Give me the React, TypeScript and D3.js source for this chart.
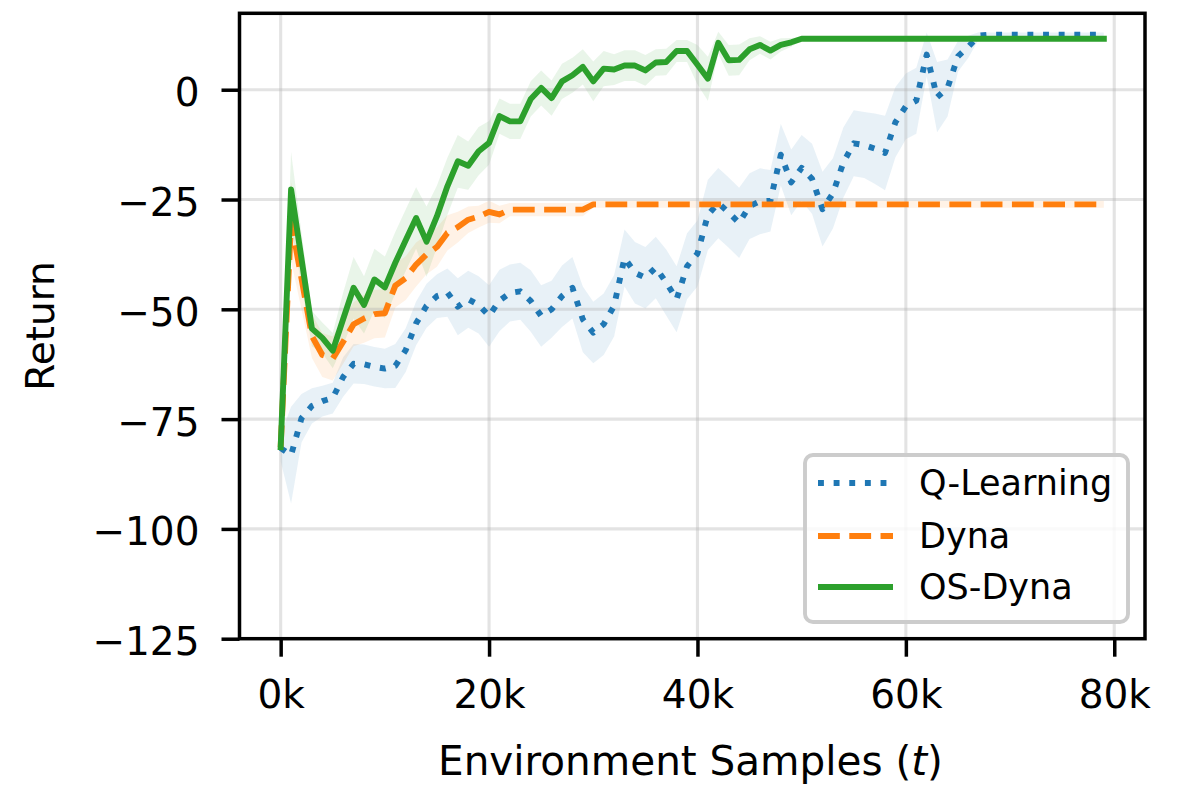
import { useEffect, useRef } from 'react';
import * as d3 from 'd3';

// environment samples, in thousands
const stepsK = [
  0, 1, 2, 3, 4, 5, 6, 7, 8, 9, 10, 11, 12, 13, 14, 15, 16, 17, 18, 19,
  20, 21, 22, 23, 24, 25, 26, 27, 28, 29, 30, 31, 32, 33, 34, 35, 36, 37, 38, 39,
  40, 41, 42, 43, 44, 45, 46, 47, 48, 49, 50, 51, 52, 53, 54, 55, 56, 57, 58, 59,
  60, 61, 62, 63, 64, 65, 66, 67, 68, 69, 70, 71, 72, 73, 74, 75, 76, 77, 78, 79,
];

const qMean = [
  -81.6, -83.2, -74.8, -72.0, -70.9, -70.2, -65.4, -62.4, -62.5, -63.1,
  -63.5, -62.9, -59.3, -53.2, -49.2, -47.0, -46.2, -49.4, -47.7, -49.0,
  -51.5, -48.0, -46.3, -45.9, -48.1, -51.5, -50.0, -47.0, -45.1, -52.3,
  -55.3, -53.4, -49.2, -38.3, -41.7, -42.8, -40.5, -43.9, -47.7, -40.2,
  -37.3, -28.5, -25.8, -28.0, -30.3, -26.5, -25.4, -25.3, -14.8, -21.1,
  -17.8, -20.3, -27.2, -23.6, -16.6, -12.2, -12.6, -13.4, -14.4, -7.4,
  -3.8, -2.5, 8.0, -1.7, 0.4, 7.6, 9.8, 12.3, 12.5, 12.5,
  12.5, 12.5, 12.5, 12.5, 12.5, 12.5, 12.5, 12.5, 12.5, 12.5,
];
const qStd = [
  3, 11, 5.5, 4, 3.5, 3.5, 4.5, 4.5, 4.5, 4.5,
  4.5, 5, 5, 5, 5, 5, 5.5, 6.5, 6.5, 6.5,
  7, 7, 6.5, 6.5, 7, 7, 6.5, 7, 7, 7.5,
  7, 7, 7, 6.5, 7, 7, 7, 7.5, 7.5, 7.5,
  7.5, 8, 8, 8, 8, 7.5, 7.5, 7, 7, 7.5,
  7.5, 8, 8.5, 8, 8, 7.5, 7.5, 8, 8.5, 8,
  7.5, 7.5, 5, 8, 6.5, 3.5, 2.5, 0.8, 0.5, 0.5,
  0.5, 0.5, 0.5, 0.5, 0.5, 0.5, 0.5, 0.5, 0.5, 0.5,
];

const dynaMean = [
  -81.4, -30.0, -43.0, -56.1, -60.4, -61.2, -57.4, -53.4, -52.1, -51.1,
  -50.9, -44.6, -42.9, -39.8, -37.5, -35.8, -32.6, -31.3, -29.6, -28.9,
  -27.8, -28.4, -27.3, -27.3, -27.3, -27.3, -27.3, -27.3, -27.3, -27.3,
  -26.1, -26.1, -26.1, -26.1, -26.1, -26.1, -26.1, -26.1, -26.1, -26.1,
  -26.1, -26.1, -26.1, -26.1, -26.1, -26.1, -26.1, -26.1, -26.1, -26.1,
  -26.1, -26.1, -26.1, -26.1, -26.1, -26.1, -26.1, -26.1, -26.1, -26.1,
  -26.1, -26.1, -26.1, -26.1, -26.1, -26.1, -26.1, -26.1, -26.1, -26.1,
  -26.1, -26.1, -26.1, -26.1, -26.1, -26.1, -26.1, -26.1, -26.1, -26.1,
];
const dynaStd = [
  1.5, 9, 7, 5, 5, 5, 5, 5, 5.5, 5.5,
  5.5, 5, 5, 5, 4.5, 4.5, 4, 3.5, 3, 2.5,
  2.5, 2, 1.5, 1.5, 1.5, 1.5, 1.5, 1.5, 1.5, 1.5,
  0.8, 0.8, 0.8, 0.8, 0.8, 0.8, 0.8, 0.8, 0.8, 0.8,
  0.8, 0.8, 0.8, 0.8, 0.8, 0.8, 0.8, 0.8, 0.8, 0.8,
  0.8, 0.8, 0.8, 0.8, 0.8, 0.8, 0.8, 0.8, 0.8, 0.8,
  0.8, 0.8, 0.8, 0.8, 0.8, 0.8, 0.8, 0.8, 0.8, 0.8,
  0.8, 0.8, 0.8, 0.8, 0.8, 0.8, 0.8, 0.8, 0.8, 0.8,
];

const osMean = [
  -81.4, -22.7, -38.5, -54.4, -56.5, -59.4, -52.2, -45.1, -49.0, -43.2,
  -45.0, -39.4, -34.3, -29.2, -34.6, -28.8, -22.0, -16.3, -17.3, -14.0,
  -12.1, -6.0, -7.2, -7.2, -2.1, 0.4, -1.9, 1.9, 3.3, 5.2,
  1.9, 4.8, 4.6, 5.5, 5.5, 4.4, 6.2, 6.3, 8.8, 8.8,
  5.7, 2.5, 10.7, 6.7, 6.8, 9.2, 10.2, 8.9, 10.2, 10.8,
  11.6, 11.6, 11.6, 11.6, 11.6, 11.6, 11.6, 11.6, 11.6, 11.6,
  11.6, 11.6, 11.6, 11.6, 11.6, 11.6, 11.6, 11.6, 11.6, 11.6,
  11.6, 11.6, 11.6, 11.6, 11.6, 11.6, 11.6, 11.6, 11.6, 11.6,
];
const osStd = [
  2, 8.5, 6, 4, 3.5, 4, 6, 7, 6.5, 7,
  7, 7, 7, 7, 8, 7, 6.5, 6, 5.5, 5.5,
  5, 4, 4, 4, 4, 4, 4, 4, 4, 4,
  4.5, 4, 3.5, 3.5, 3.5, 3.5, 3, 3, 2.5, 2.5,
  4.5, 5, 2.5, 3.5, 3.5, 2.5, 2, 2, 1.5, 1,
  0.4, 0.4, 0.4, 0.4, 0.4, 0.4, 0.4, 0.4, 0.4, 0.4,
  0.4, 0.4, 0.4, 0.4, 0.4, 0.4, 0.4, 0.4, 0.4, 0.4,
  0.4, 0.4, 0.4, 0.4, 0.4, 0.4, 0.4, 0.4, 0.4, 0.4,
];

const seriesNames = ['Q-Learning', 'Dyna', 'OS-Dyna'];

const xTicks = [0, 20000, 40000, 60000, 80000];
const xTickLabels = ['0k', '20k', '40k', '60k', '80k'];
const yTicks = [0, -25, -50, -75, -100, -125];
const yTickLabels = ['0', '\u221225', '\u221250', '\u221275', '\u2212100', '\u2212125'];

const FONT = '"DejaVu Sans", sans-serif';

function App() {
  const chartRef = useRef(null);

  useEffect(() => {
    const svg = d3.select(chartRef.current);
    svg.selectAll('*').remove();

    const left = 239.5, right = 1145, top = 13.3, bottom = 638.7;
    const lw = 5.9;

    const x = d3.scaleLinear().domain([-3950, 82950]).range([left, right]);
    const y = d3.scaleLinear().domain([-125, 17.4]).range([bottom, top]);

    const series = [
      { name: seriesNames[0], mean: qMean, std: qStd, color: '#1f77b4', dash: `${lw},${lw * 1.65}`, cap: 'butt' },
      { name: seriesNames[1], mean: dynaMean, std: dynaStd, color: '#ff7f0e', dash: `${lw * 3.7},${lw * 1.6}`, cap: 'butt' },
      { name: seriesNames[2], mean: osMean, std: osStd, color: '#2ca02c', dash: null, cap: 'square' },
    ];

    svg.append('rect').attr('width', 1185).attr('height', 786).attr('fill', '#fff');

    svg.append('defs').append('clipPath').attr('id', 'plot-clip')
      .append('rect')
      .attr('x', left).attr('y', top)
      .attr('width', right - left).attr('height', bottom - top);

    const plot = svg.append('g').attr('clip-path', 'url(#plot-clip)');

    // bands
    series.forEach((s) => {
      const area = d3.area()
        .x((d, i) => x(stepsK[i] * 1000))
        .y0((d, i) => y(s.mean[i] - s.std[i]))
        .y1((d, i) => y(s.mean[i] + s.std[i]));
      plot.append('path')
        .attr('d', area(stepsK))
        .attr('fill', s.color)
        .attr('fill-opacity', 0.1)
        .attr('stroke', 'none');
    });

    // grid
    const grid = plot.append('g')
      .attr('stroke', '#b0b0b0')
      .attr('stroke-opacity', 0.35)
      .attr('stroke-width', 3.1);
    grid.selectAll('.vgrid').data(xTicks).enter().append('line')
      .attr('x1', (d) => x(d)).attr('x2', (d) => x(d))
      .attr('y1', top).attr('y2', bottom);
    grid.selectAll('.hgrid').data(yTicks).enter().append('line')
      .attr('x1', left).attr('x2', right)
      .attr('y1', (d) => y(d)).attr('y2', (d) => y(d));

    // lines
    series.forEach((s) => {
      const line = d3.line()
        .x((d, i) => x(stepsK[i] * 1000))
        .y((d, i) => y(s.mean[i]));
      plot.append('path')
        .attr('d', line(stepsK))
        .attr('fill', 'none')
        .attr('stroke', s.color)
        .attr('stroke-width', lw)
        .attr('stroke-linejoin', 'round')
        .attr('stroke-linecap', s.cap)
        .attr('stroke-dasharray', s.dash);
    });

    // axes
    const xAxis = d3.axisBottom(x)
      .tickValues(xTicks)
      .tickFormat((d, i) => xTickLabels[i])
      .tickSize(18)
      .tickSizeOuter(0)
      .tickPadding(23.6);
    const gx = svg.append('g').attr('transform', `translate(0,${bottom})`).call(xAxis);

    const yAxis = d3.axisLeft(y)
      .tickValues(yTicks)
      .tickFormat((d, i) => yTickLabels[i])
      .tickSize(18)
      .tickSizeOuter(0)
      .tickPadding(22);
    const gy = svg.append('g').attr('transform', `translate(${left},0)`).call(yAxis);

    [gx, gy].forEach((g) => {
      g.select('.domain').remove();
      g.selectAll('.tick line').attr('stroke', '#000').attr('stroke-width', 3.5);
      g.selectAll('.tick text')
        .attr('fill', '#000')
        .style('font-family', FONT)
        .style('font-size', '39px');
    });
    gy.selectAll('.tick text').attr('dy', '0.41em');

    // spines
    svg.append('rect')
      .attr('x', left).attr('y', top)
      .attr('width', right - left).attr('height', bottom - top)
      .attr('fill', 'none')
      .attr('stroke', '#000')
      .attr('stroke-width', 3.5);

    // axis labels
    const xl = svg.append('text')
      .attr('x', 690.5)
      .attr('y', 775)
      .attr('text-anchor', 'middle')
      .style('font-family', FONT)
      .style('font-size', '40.5px')
      .attr('fill', '#000');
    xl.append('tspan').text('Environment Samples (');
    xl.append('tspan').attr('font-style', 'italic').text('t');
    xl.append('tspan').text(')');

    svg.append('text')
      .attr('transform', `translate(54,${(top + bottom) / 2}) rotate(-90)`)
      .attr('text-anchor', 'middle')
      .style('font-family', FONT)
      .style('font-size', '39px')
      .attr('fill', '#000')
      .text('Return');

    // legend
    const legend = svg.append('g');
    legend.append('rect')
      .attr('x', 805).attr('y', 455)
      .attr('width', 323).attr('height', 167)
      .attr('rx', 8).attr('ry', 8)
      .attr('fill', '#fff').attr('fill-opacity', 0.8)
      .attr('stroke', '#cccccc')
      .attr('stroke-width', 3.9);

    const rowY = [483, 536, 587];
    series.forEach((s, i) => {
      legend.append('line')
        .attr('x1', 818).attr('x2', 893)
        .attr('y1', rowY[i]).attr('y2', rowY[i])
        .attr('stroke', s.color)
        .attr('stroke-width', lw)
        .attr('stroke-linecap', 'butt')
        .attr('stroke-dasharray', s.dash);
      legend.append('text')
        .attr('x', 919)
        .attr('y', rowY[i])
        .attr('dy', '0.35em')
        .style('font-family', FONT)
        .style('font-size', '35px')
        .attr('fill', '#000')
        .text(s.name);
    });
  }, []);

  return (
    <svg
      ref={chartRef}
      width={1185}
      height={786}
      style={{ position: 'absolute', left: 0, top: 0, display: 'block' }}
    ></svg>
  );
}

export default App;
